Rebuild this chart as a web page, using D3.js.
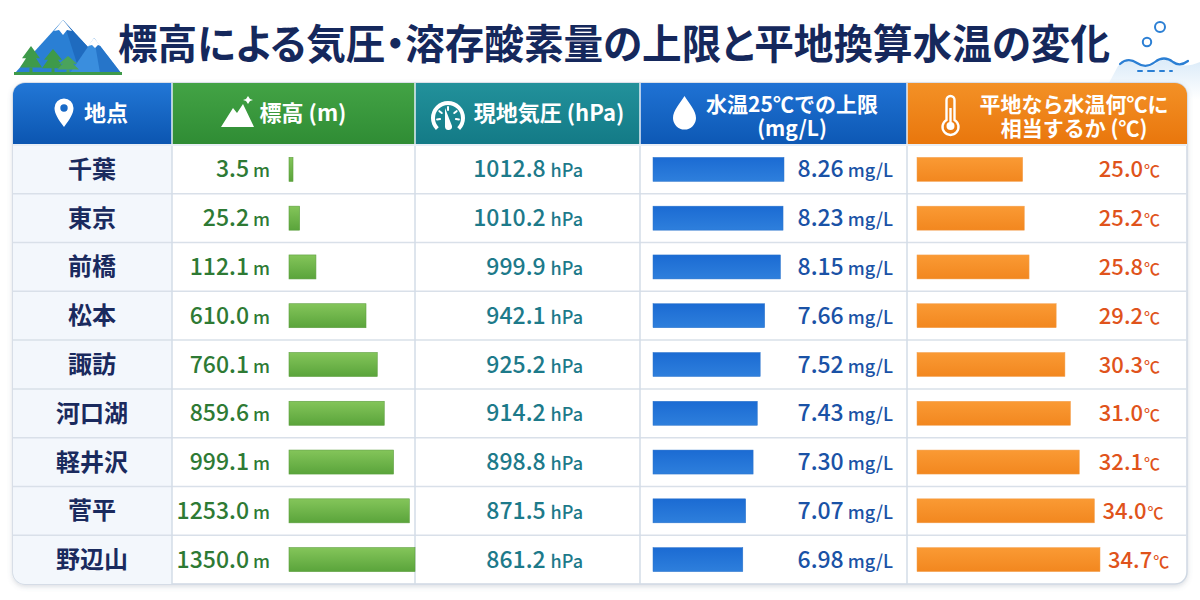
<!DOCTYPE html>
<html><head><meta charset="utf-8">
<script src="https://cdn.jsdelivr.net/npm/d3@7"></script>
<style>body{margin:0;background:#fff}svg{display:block}.title{font-feature-settings:"palt" 1}</style>
</head><body>
<svg id="chart" width="1200" height="600"></svg>
<script>
// ---- data ----
const chartTitle = "標高による気圧・溶存酸素量の上限と平地換算水温の変化";
const locations = ["千葉","東京","前橋","松本","諏訪","河口湖","軽井沢","菅平","野辺山"];
const elevations = [3.5, 25.2, 112.1, 610.0, 760.1, 859.6, 999.1, 1253.0, 1350.0];
const pressures = [1012.8, 1010.2, 999.9, 942.1, 925.2, 914.2, 898.8, 871.5, 861.2];
const oxygenLimits = [8.26, 8.23, 8.15, 7.66, 7.52, 7.43, 7.30, 7.07, 6.98];
const equivTemps = [25.0, 25.2, 25.8, 29.2, 30.3, 31.0, 32.1, 34.0, 34.7];
const headerLines = [["地点"],["標高 (m)"],["現地気圧 (hPa)"],["水温25℃での上限","(mg/L)"],["平地なら水温何℃に","相当するか (℃)"]];
const units = ["m","hPa","mg/L","℃"];

// ---- layout ----
const FONT = "'Noto Sans CJK JP','Noto Sans',sans-serif";
const colEdges = [13,172,415,640,907,1187];
const tableTop = 83, headerBottom = 143, bodyTop = 145, tableBottom = 584;
const svg = d3.select("#chart");
const defs = svg.append("defs");

function vgrad(id, c1, c2){
  const g = defs.append("linearGradient").attr("id",id).attr("x1",0).attr("y1",0).attr("x2",0).attr("y2",1);
  g.append("stop").attr("offset","0%").attr("stop-color",c1);
  g.append("stop").attr("offset","100%").attr("stop-color",c2);
}
vgrad("hBlue1","#2277d6","#0b55b0");
vgrad("hGreen","#43a345","#2f8c34");
vgrad("hTeal","#22919b","#137a86");
vgrad("hBlue2","#1f72d4","#0d58b4");
vgrad("hOrange","#f39126","#e9760c");
vgrad("bGreen","#84c55a","#5aa43b");
vgrad("bBlue","#1b6bd3","#2e7fdc");
vgrad("bOrange","#fa9a34","#f2871f");
vgrad("seaFade","#d7e9f8","#ffffff");
const headerFills = ["url(#hBlue1)","url(#hGreen)","url(#hTeal)","url(#hBlue2)","url(#hOrange)"];

const shadow = defs.append("filter").attr("id","shadow").attr("x","-5%").attr("y","-5%").attr("width","110%").attr("height","115%");
shadow.append("feDropShadow").attr("dx",0).attr("dy",2).attr("stdDeviation",2.5).attr("flood-color","#5a6b80").attr("flood-opacity",0.22);

defs.append("clipPath").attr("id","tableClip").append("rect")
  .attr("x",colEdges[0]).attr("y",tableTop).attr("width",colEdges[5]-colEdges[0]).attr("height",tableBottom-tableTop).attr("rx",12);

// ---- decorations top ----
const sea = svg.append("g");
sea.append("path").attr("d","M1118,66 Q1128,58 1138,64 Q1148,70 1158,62 Q1168,56 1178,64 Q1186,68 1200,62 L1200,100 L1100,100 Z").attr("fill","url(#seaFade)").attr("opacity",0.9);
sea.append("path").attr("d","M1120,64 Q1128,57 1137,63 Q1146,69 1155,62 Q1164,55 1173,62 Q1180,67 1188,61").attr("fill","none").attr("stroke","#2b7fd4").attr("stroke-width",2.2).attr("stroke-linecap","round");
sea.append("circle").attr("cx",1160).attr("cy",27).attr("r",5).attr("fill","#fff").attr("stroke","#2b7fd4").attr("stroke-width",2);
sea.append("circle").attr("cx",1147).attr("cy",42).attr("r",4.2).attr("fill","#fff").attr("stroke","#2b7fd4").attr("stroke-width",2);
[[1138,1142],[1148,1154],[1160,1164],[1170,1172]].forEach(d=>sea.append("line").attr("x1",d[0]).attr("x2",d[1]).attr("y1",71).attr("y2",71).attr("stroke","#2b7fd4").attr("stroke-width",2).attr("stroke-linecap","round"));

const mt = svg.append("g");
mt.append("polygon").attr("points","15,73 63,20 112,73").attr("fill","#2a7fd4");
mt.append("polygon").attr("points","63,20 112,73 80,73").attr("fill","#1f6bbf");
mt.append("polygon").attr("points","70,73 94,38 121,73").attr("fill","#3a8ede");
mt.append("polygon").attr("points","94,38 121,73 100,73").attr("fill","#2675c9");
mt.append("polygon").attr("points","63,20 54,31 59,30 63,35 67,30 72,31").attr("fill","#fff");
mt.append("polygon").attr("points","94,38 88,46 92,45 95,48 98,45 101,46").attr("fill","#fff");
function tree(x, top, h, col){
  mt.append("polygon").attr("points",`${x},${top} ${x-9},${top+h*0.45} ${x-5},${top+h*0.45} ${x-11},${top+h*0.8} ${x+11},${top+h*0.8} ${x+5},${top+h*0.45} ${x+9},${top+h*0.45}`).attr("fill",col);
  mt.append("rect").attr("x",x-1.5).attr("y",top+h*0.8).attr("width",3).attr("height",h*0.2).attr("fill",col);
}
tree(31,46,27,"#3e9a4a"); tree(53,49,24,"#3e9a4a"); tree(68,56,17,"#4aa35c");
mt.append("rect").attr("x",14).attr("y",72).attr("width",108).attr("height",3).attr("fill","#3e9a4a");

// title
svg.append("text").attr("class","title").attr("x",118).attr("y",59).attr("font-family",FONT).attr("font-weight",700).attr("font-size",41)
  .attr("fill","#15285c").attr("textLength",992).attr("lengthAdjust","spacingAndGlyphs").text(chartTitle);

// ---- table ----
svg.append("rect").attr("x",colEdges[0]).attr("y",tableTop).attr("width",colEdges[5]-colEdges[0]).attr("height",tableBottom-tableTop).attr("rx",12)
  .attr("fill","#fff").attr("stroke","#cfd8e3").attr("stroke-width",1.5).attr("filter","url(#shadow)");

const tbl = svg.append("g").attr("clip-path","url(#tableClip)");
tbl.append("rect").attr("x",colEdges[0]).attr("y",bodyTop).attr("width",colEdges[1]-colEdges[0]).attr("height",tableBottom-bodyTop).attr("fill","#f3f7fc");
tbl.selectAll("rect.hdr").data(headerFills).join("rect").attr("class","hdr")
  .attr("x",(d,i)=>colEdges[i]).attr("y",tableTop).attr("width",(d,i)=>colEdges[i+1]-colEdges[i]).attr("height",headerBottom-tableTop+2).attr("fill",d=>d);

const y = d3.scaleBand().domain(locations).range([bodyTop, tableBottom]).padding(0);

tbl.selectAll("line.row").data(locations.slice(1)).join("line").attr("class","row")
  .attr("x1",colEdges[0]).attr("x2",colEdges[5]).attr("y1",d=>y(d)).attr("y2",d=>y(d)).attr("stroke","#d9e0e9").attr("stroke-width",1.5);
tbl.selectAll("line.col").data(colEdges.slice(1,5)).join("line").attr("class","col")
  .attr("x1",d=>d).attr("x2",d=>d).attr("y1",bodyTop).attr("y2",tableBottom).attr("stroke","#d3dce7").attr("stroke-width",1.5);
tbl.selectAll("line.hcol").data(colEdges.slice(1,5)).join("line").attr("class","hcol")
  .attr("x1",d=>d).attr("x2",d=>d).attr("y1",tableTop).attr("y2",headerBottom+2).attr("stroke","#e6eef7").attr("stroke-width",1.5);
tbl.append("line").attr("x1",colEdges[0]).attr("x2",colEdges[5]).attr("y1",headerBottom+2).attr("y2",headerBottom+2).attr("stroke","#e8eef5").attr("stroke-width",2);

// header text (multi-line headers use tspans inside one text)
const hdrTextX = [106, 303, 549, 792, 1074];
const hdrG = svg.append("g").attr("font-family",FONT).attr("font-weight",700).attr("fill","#fff").attr("text-anchor","middle");
headerLines.forEach((lines,i)=>{
  if(lines.length===1){
    hdrG.append("text").attr("x",hdrTextX[i]).attr("y",121).attr("font-size",22).text(lines[0]);
  } else {
    const t = hdrG.append("text").attr("x",hdrTextX[i]).attr("y",112).attr("font-size",21);
    t.append("tspan").attr("x",hdrTextX[i]).attr("y",112).text(lines[0]);
    t.append("tspan").attr("x",hdrTextX[i]).attr("y",136).text(lines[1]);
  }
});

// header icons
const ic = svg.append("g").attr("fill","#fff");
ic.append("path").attr("fill-rule","evenodd").attr("d","M64,127 C58,119 54.5,113.5 54.5,108 A9.5,9.5 0 1 1 73.5,108 C73.5,113.5 70,119 64,127 Z M64,104.3 A3.7,3.7 0 1 0 64,111.7 A3.7,3.7 0 1 0 64,104.3 Z");
ic.append("path").attr("d","M221,127 L233,108 L237,113 L243,104 L254,127 Z");
ic.append("path").attr("d","M248,96 L250,99 L253,100 L250,101 L248,104 L246,101 L243,100 L246,99 Z");
const gc = [448,118];
ic.append("path").attr("d",d3.arc()({innerRadius:13,outerRadius:17,startAngle:-2.35,endAngle:2.35})).attr("transform",`translate(${gc})`);
[-1.7,-0.9,0,0.9,1.7].forEach(a=>{
  ic.append("line").attr("x1",gc[0]+Math.sin(a)*8).attr("y1",gc[1]-Math.cos(a)*8).attr("x2",gc[0]+Math.sin(a)*11).attr("y2",gc[1]-Math.cos(a)*11).attr("stroke","#fff").attr("stroke-width",2).attr("stroke-linecap","round");
});
ic.append("path").attr("d","M445,108 L452,126 A3.5,3.5 0 0 1 445,127 Z");
ic.append("path").attr("d","M684.5,96 C680,103 673,111 673,118 A11.5,11.5 0 0 0 696,118 C696,111 689,103 684.5,96 Z");
ic.append("path").attr("fill","none").attr("stroke","#fff").attr("stroke-width",2.4)
  .attr("d","M946.5,120 L946.5,100 A4,4 0 0 1 954.5,100 L954.5,120 A8,8 0 1 1 946.5,120 Z");
ic.append("circle").attr("cx",950.5).attr("cy",126).attr("r",4);
ic.append("rect").attr("x",949.3).attr("y",108).attr("width",2.4).attr("height",16);

// ---- body ----
const body = svg.append("g").attr("font-family",FONT);
const cy = d => y(d) + y.bandwidth()/2;
const barH = 24;

body.selectAll("text.loc").data(locations).join("text").attr("class","loc")
  .attr("x",92).attr("y",d=>cy(d)+8.5).attr("text-anchor","middle").attr("font-size",24).attr("font-weight",700).attr("fill","#1a2a5e").text(d=>d);

const elevScale = d3.scalePow().exponent(0.62).domain([0,1350]).range([0,126]);
body.selectAll("rect.elev").data(elevations).join("rect").attr("class","elev")
  .attr("x",289).attr("y",(d,i)=>cy(locations[i])-barH/2).attr("width",d=>Math.max(4,elevScale(d))).attr("height",barH)
  .attr("fill","url(#bGreen)").attr("stroke","#5d9f3f").attr("stroke-width",0.6);
function valueText(sel, cls, data, x, color, fmt, unit, numSize, unitSize, gap){
  const t = sel.selectAll("text."+cls).data(data).join("text").attr("class",cls)
    .attr("x",x).attr("y",(d,i)=>cy(locations[i])+8).attr("text-anchor","end").attr("fill",color).attr("font-weight",500);
  t.append("tspan").attr("font-size",numSize).text(d=>fmt(d));
  t.append("tspan").attr("font-size",unitSize).attr("dx",gap).text(unit);
  return t;
}
valueText(body,"elevT",elevations,270,"#2e7a34",d3.format(".1f"),units[0],23,18,4);
valueText(body,"presT",pressures,583,"#1d7a8a",d3.format(".1f"),units[1],23,18,5);

const doScale = d3.scaleLinear().domain([4.19, 8.26]).range([0,131]);
body.selectAll("rect.do").data(oxygenLimits).join("rect").attr("class","do")
  .attr("x",653).attr("y",(d,i)=>cy(locations[i])-barH/2).attr("width",d=>doScale(d)).attr("height",barH)
  .attr("fill","url(#bBlue)").attr("stroke","#2c74cc").attr("stroke-width",0.5);
valueText(body,"doT",oxygenLimits,893,"#1a52a6",d3.format(".2f"),units[2],23,18,4);

const tScale = d3.scaleLinear().domain([11.74, 34.7]).range([0,183]);
body.selectAll("rect.tmp").data(equivTemps).join("rect").attr("class","tmp")
  .attr("x",917).attr("y",(d,i)=>cy(locations[i])-barH/2).attr("width",d=>tScale(d)).attr("height",barH)
  .attr("fill","url(#bOrange)").attr("stroke","#f3a050").attr("stroke-width",0.5);
const tt = valueText(body,"tmpT",equivTemps,1160,"#e0531b",d3.format(".1f"),units[3],22,16,1);
tt.each(function(d){
  const w = this.getComputedTextLength();
  const xEnd = Math.max(1160, 917 + tScale(d) + 9 + w);
  d3.select(this).attr("x", xEnd);
});
</script>
</body></html>
